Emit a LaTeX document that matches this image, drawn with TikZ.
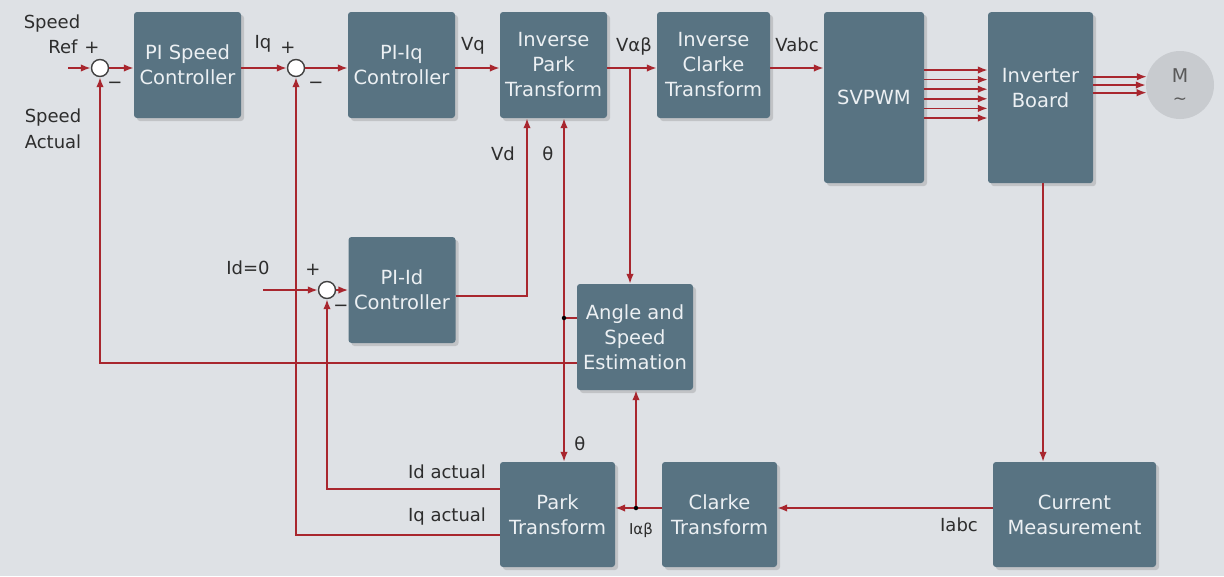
\documentclass[tikz,border=0pt]{standalone}
\usepackage{fontspec}
\setmainfont{DejaVu Sans}
\usetikzlibrary{arrows.meta,shadows,calc}
\definecolor{bg}{RGB}{222,225,229}
\definecolor{boxc}{RGB}{88,115,130}
\definecolor{sigc}{RGB}{168,38,46}
\definecolor{txtc}{RGB}{45,45,45}
\definecolor{boxtxt}{RGB}{236,240,243}
\definecolor{motorc}{RGB}{200,203,207}
\begin{document}
\begin{tikzpicture}[x=1pt,y=-1pt,
  blk/.style={draw=none, fill=boxc, rounded corners=3pt, text=boxtxt, align=center,
    font=\fontsize{19.5}{25}\selectfont, inner sep=0pt,
    drop shadow={opacity=0.3, shadow xshift=3pt, shadow yshift=-3pt}},
  sumj/.style={circle, draw=black!75, fill=white, line width=1.4pt, minimum size=17pt, inner sep=0pt},
  lbl/.style={text=txtc, font=\fontsize{18}{22}\selectfont, inner sep=0pt},
  wire/.style={draw=sigc, line width=1.7pt},
  sig/.style={wire, -{Latex[length=10pt,width=7.5pt]}},
  jdot/.style={circle, fill=black, inner sep=0pt, minimum size=4.5pt}
]
\fill[bg] (0,0) rectangle (1224,576);
\useasboundingbox (0,0) rectangle (1224,576);

% blocks
\node[blk, minimum width=107pt, minimum height=106pt] (pis) at (187.5,65) {PI Speed\\Controller};
\node[blk, minimum width=107pt, minimum height=106pt] (piq) at (401.5,65) {PI-Iq\\Controller};
\node[blk, minimum width=107pt, minimum height=106pt] (ipark) at (553.5,65) {Inverse\\Park\\Transform};
\node[blk, minimum width=113pt, minimum height=106pt] (iclarke) at (713.5,65) {Inverse\\Clarke\\Transform};
\node[blk, minimum width=100pt, minimum height=171pt] (svpwm) at (874,97.5) {SVPWM};
\node[blk, minimum width=105pt, minimum height=171pt, anchor=north] (inv) at (1040.5,12) {};
\node[text=boxtxt, align=center, font=\fontsize{19.5}{25}\selectfont] (invt) at (1040.5,88) {Inverter\\Board};
\node[circle, fill=motorc, minimum size=68pt, inner sep=0pt] (motor) at (1180,85) {};
\node[text=black!65, font=\fontsize{19}{22}\selectfont, inner sep=0pt] (mt) at (1180,76) {M};
\node[text=black!65, font=\fontsize{17}{20}\selectfont, inner sep=0pt] (mtilde) at (1180,101) {\~{}};
\node[blk, minimum width=107pt, minimum height=106pt] (pid) at (402,290) {PI-Id\\Controller};
\node[blk, minimum width=116pt, minimum height=106pt] (ase) at (635,337) {Angle and\\Speed\\Estimation};
\node[blk, minimum width=115pt, minimum height=105pt] (park) at (557.5,514.5) {Park\\Transform};
\node[blk, minimum width=115pt, minimum height=105pt] (clarke) at (719.5,514.5) {Clarke\\Transform};
\node[blk, minimum width=163pt, minimum height=105pt] (cm) at (1074.5,514.5) {Current\\Measurement};

% summing junctions
\node[sumj] (s1) at (100,68) {};
\node[sumj] (s2) at (296,68) {};
\node[sumj] (s3) at (327,290) {};

% coordinates
\coordinate (sref) at (68,68);
\coordinate (vab) at (630,68);
\coordinate (vd) at (527,296);
\coordinate (th) at (564,318);
\coordinate (fb) at (100,363);
\coordinate (idf) at (327,489);
\coordinate (iqf) at (296,535);
\coordinate (idz) at (263,290);
\coordinate (yb) at (0,508);
\coordinate (iab) at (636,508);

% top row
\draw[sig] (sref) -- (s1.west);
\draw[sig] (s1.east) -- (s1.east -| pis.west);
\draw[sig] (s2 -| pis.east) -- (s2.west);
\draw[sig] (s2.east) -- (s2 -| piq.west);
\draw[sig] (s2 -| piq.east) -- (s2 -| ipark.west);
\draw[sig] (s2 -| ipark.east) -- (s2 -| iclarke.west);
\draw[sig] (s2 -| iclarke.east) -- (s2 -| svpwm.west);
\foreach \yy in {70,79.6,89.2,98.8,108.4,118}
  \draw[sig] (svpwm.east |- 0,\yy) -- (inv.west |- 0,\yy);
\draw[sig] (inv.east |- motor.166.4) -- (motor.166.4);
\draw[sig] (inv.east |- motor.180) -- (motor.180);
\draw[sig] (inv.east |- motor.193.6) -- (motor.193.6);

% Valpha-beta branch to estimator
\draw[sig] (vab) -- (vab |- ase.north);

% inverter to current measurement
\draw[sig] (inv.south -| 1043,0) -- (1043,0 |- cm.north);
\draw[sig] (cm.west |- yb) -- (clarke.east |- yb);
\draw[sig] (clarke.west |- yb) -- (park.east |- yb);
\draw[sig] (iab) -- (iab |- ase.south);
\node[jdot] (iabdot) at (iab) {};

% theta
\draw[sig] (th) -- (th |- ipark.south);
\draw[sig] (th) -- (th |- park.north);
\draw[wire] (th) -- (th -| ase.west);
\node[jdot] (thdot) at (th) {};

% Vd
\draw[sig] (pid.east |- vd) -- (vd) -- (vd |- ipark.south);

% speed feedback
\draw[sig] (ase.west |- fb) -- (fb) -- (s1.south);

% current feedbacks
\draw[sig] (park.west |- idf) -- (idf) -- (s3.south);
\draw[sig] (park.west |- iqf) -- (iqf) -- (s2.south);

% Id=0
\draw[sig] (idz) -- (s3.west);
\draw[sig] (s3.east) -- (s3 -| pid.west);

% labels
\node[lbl] (l1) at (52,24) {Speed};
\node[lbl] (l2) at (63,47) {Ref};
\node[lbl] (l3) at (92,48) {+};
\node[lbl] (l4) at (115,85) {−};
\node[lbl] (l5) at (53,118) {Speed};
\node[lbl] (l6) at (53,142) {Actual};
\node[lbl] (l7) at (263,44) {Iq};
\node[lbl] (l8) at (288,48) {+};
\node[lbl] (l9) at (316,85) {−};
\node[lbl] (l10) at (473,46) {Vq};
\node[lbl] (l11) at (634,46) {Vαβ};
\node[lbl] (l12) at (797,45) {Vabc};
\node[lbl] (l13) at (503,154) {Vd};
\node[lbl] (l14) at (548,154) {θ};
\node[lbl] (l15) at (248,268) {Id=0};
\node[lbl] (l16) at (313,270) {+};
\node[lbl] (l17) at (341,308) {−};
\node[lbl] (l18) at (447,472) {Id actual};
\node[lbl] (l19) at (447,517) {Iq actual};
\node[lbl] (l20) at (580,444) {θ};
\node[lbl, font=\fontsize{15}{18}\selectfont] (l21) at (641,530) {Iαβ};
\node[lbl] (l22) at (959,525) {Iabc};
\end{tikzpicture}
\end{document}
